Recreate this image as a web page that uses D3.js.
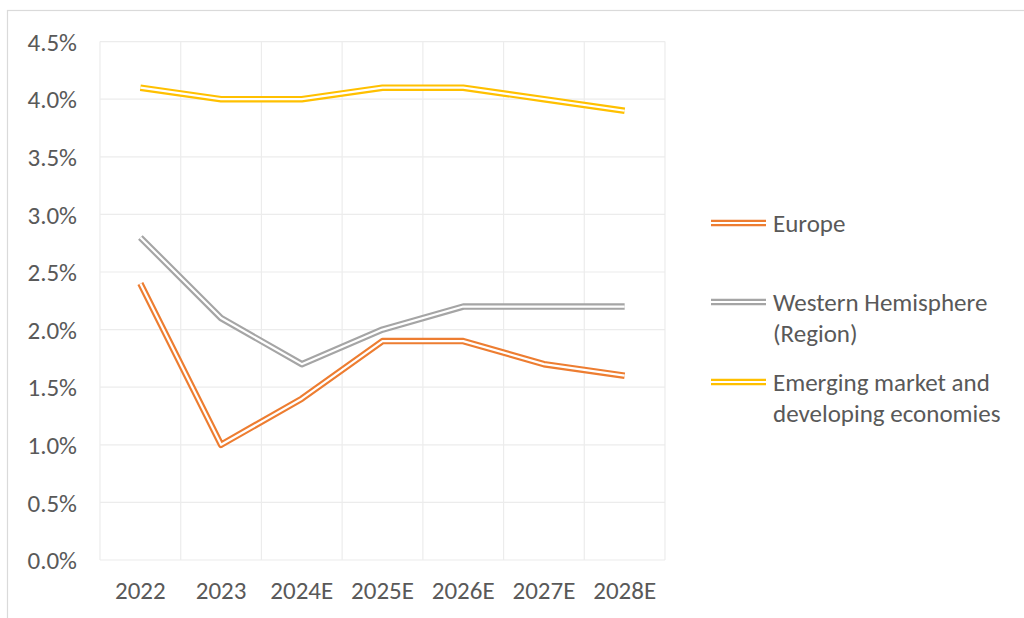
<!DOCTYPE html>
<html>
<head>
<meta charset="utf-8">
<script src="https://cdn.jsdelivr.net/npm/d3@7"></script>
<style>
  html, body { margin: 0; padding: 0; background: #fff; }
  svg { display: block; }
  svg text { font-family: Carlito, Lato, "Open Sans", sans-serif; }
</style>
</head>
<body>
<svg id="chart" width="1024" height="618"></svg>
<script>
// Years on the category axis
const categories = ["2022", "2023", "2024E", "2025E", "2026E", "2027E", "2028E"];

// Real GDP growth, percent
const europe = [2.4, 1.0, 1.4, 1.9, 1.9, 1.7, 1.6];
const westernHemisphere = [2.8, 2.1, 1.7, 2.0, 2.2, 2.2, 2.2];
const emergingMarkets = [4.1, 4.0, 4.0, 4.1, 4.1, 4.0, 3.9];

const seriesNames = ["Europe", "Western Hemisphere (Region)", "Emerging market and developing economies"];
const legendLines = [["Europe"], ["Western Hemisphere", "(Region)"], ["Emerging market and", "developing economies"]];
const yTicks = [0, 0.5, 1.0, 1.5, 2.0, 2.5, 3.0, 3.5, 4.0, 4.5];

const series = [
  { name: seriesNames[0], values: europe, color: "#ED7D31" },
  { name: seriesNames[1], values: westernHemisphere, color: "#A5A5A5" },
  { name: seriesNames[2], values: emergingMarkets, color: "#FFC000" }
];

const svg = d3.select("#chart");
const textColor = "#595959";
const gridColor = "#ececec";
const fontSize = "25px";

// Outer chart frame
svg.append("rect")
  .attr("x", 7.5).attr("y", 10.5)
  .attr("width", 1030).attr("height", 620)
  .attr("fill", "none").attr("stroke", "#dadada").attr("stroke-width", 1.2);

const plot = { left: 100, right: 665, top: 41.6, bottom: 560 };

const x = d3.scaleBand().domain(categories).range([plot.left, plot.right]).padding(0);
const y = d3.scaleLinear().domain([0, 4.5]).range([plot.bottom, plot.top]);

// Horizontal gridlines
svg.append("g")
  .selectAll("line").data(yTicks).join("line")
  .attr("x1", plot.left).attr("x2", plot.right)
  .attr("y1", d => y(d)).attr("y2", d => y(d))
  .attr("stroke", gridColor).attr("stroke-width", 1.2);

// Vertical gridlines between categories
const vBounds = categories.map(c => x(c)).concat([plot.right]);
svg.append("g")
  .selectAll("line").data(vBounds).join("line")
  .attr("x1", d => d).attr("x2", d => d)
  .attr("y1", plot.top).attr("y2", plot.bottom)
  .attr("stroke", gridColor).attr("stroke-width", 1.2);

// Y axis labels
const yAxis = d3.axisLeft(y).tickValues(yTicks).tickFormat(d => d.toFixed(1) + "%").tickSize(0).tickPadding(0);
const yg = svg.append("g").attr("transform", `translate(${plot.left - 23},0)`).call(yAxis)
  .attr("font-family", null).attr("font-size", null);
yg.select(".domain").remove();
yg.selectAll("text").attr("fill", textColor).style("font-size", fontSize).attr("dy", "0.35em");

// X axis labels
const xAxis = d3.axisBottom(x).tickSize(0).tickPadding(0);
const xg = svg.append("g").attr("transform", `translate(0,${plot.bottom + 21})`).call(xAxis)
  .attr("font-family", null).attr("font-size", null);
xg.select(".domain").remove();
xg.selectAll("text").attr("fill", textColor).style("font-size", fontSize).attr("dy", "0.71em");

// Lines drawn with a double-stroke style: wide colour stroke with a white core
const line = d3.line()
  .x((d, i) => x(categories[i]) + x.bandwidth() / 2)
  .y(d => y(d));

const lines = svg.append("g");
series.forEach(s => {
  lines.append("path").attr("d", line(s.values))
    .attr("fill", "none").attr("stroke", s.color).attr("stroke-width", 6.5)
    .attr("stroke-linejoin", "round");
  lines.append("path").attr("d", line(s.values))
    .attr("fill", "none").attr("stroke", "#fff").attr("stroke-width", 2.2)
    .attr("stroke-linejoin", "round");
});

// Legend
const legendItems = [
  { y: 223, s: series[0], lines: legendLines[0] },
  { y: 302, s: series[1], lines: legendLines[1] },
  { y: 382, s: series[2], lines: legendLines[2] }
];
const lg = svg.append("g");
legendItems.forEach(item => {
  lg.append("line").attr("x1", 711).attr("x2", 766).attr("y1", item.y).attr("y2", item.y)
    .attr("stroke", item.s.color).attr("stroke-width", 6.5);
  lg.append("line").attr("x1", 711).attr("x2", 766).attr("y1", item.y).attr("y2", item.y)
    .attr("stroke", "#fff").attr("stroke-width", 2.2);
  item.lines.forEach((t, i) => {
    lg.append("text").attr("x", 773).attr("y", item.y + i * 31).attr("dy", "0.35em")
      .attr("fill", textColor).style("font-size", fontSize).text(t);
  });
});
</script>
</body>
</html>
